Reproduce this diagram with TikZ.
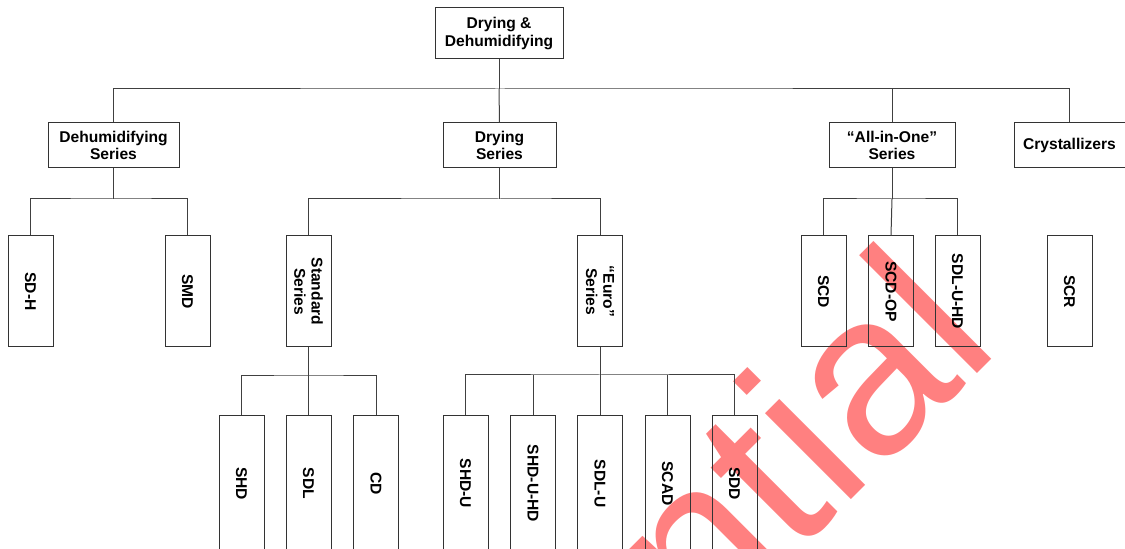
\documentclass[tikz,border=0pt]{standalone}
\usepackage{fontspec}
\setmainfont{Liberation Sans}
\usetikzlibrary{calc}
\definecolor{wasserrot}{RGB}{255,128,128}
\tikzset{
    kasten/.style={draw=black!80, line width=0.5pt, inner sep=0pt, align=center,
        font=\fontsize{7.8}{8.6}\selectfont\bfseries, minimum height=22.5pt},
    hoch/.style={kasten, rotate=-90, minimum width=55.5pt},
    tief/.style={hoch, anchor=west, minimum width=68pt},
    linie/.style={draw=black!75, line width=0.5pt}
}

\begin{document}
\begin{tikzpicture}[x=0.5pt, y=-0.5pt]

\useasboundingbox (0,0) rectangle (1125,549);
\clip (0,0) rectangle (1125,549);

% Wasserzeichen
\node[text=wasserrot, font=\fontsize{115}{115}\selectfont, rotate=45,
    anchor=base east, inner sep=0pt] (wz) at (1003,348) {ntial};

% Ebene 0 und 1
\node[kasten, minimum width=64pt, minimum height=25.5pt] (top) at (499,33.5) {Drying \&\\Dehumidifying};
\node[kasten, minimum width=65.5pt] (dehum) at (113.5,145.5) {Dehumidifying\\Series};
\node[kasten, minimum width=56.5pt] (trock) at (499.5,145.5) {Drying\\Series};
\node[kasten, minimum width=63pt] (allin) at (892,145.5) {“All-in-One”\\Series};
\node[kasten, minimum width=55.5pt] (kristall) at (1069.5,145.5) {Crystallizers};

% Ebene 2
\node[hoch] (sdh) at (30.5,291.5) {SD-H};
\node[hoch] (smd) at (187.5,291.5) {SMD};
\node[hoch] (standard) at (308.5,291.5) {Standard\\Series};
\node[hoch] (euro) at (600,291.5) {“Euro”\\Series};
\node[hoch] (scd) at (823.5,291.5) {SCD};
\node[hoch] (scdop) at (891,291.5) {SCD-OP};
\node[hoch] (sdluhd) at (957.5,291.5) {SDL-U-HD};
\node[hoch] (scr) at (1069.5,291.5) {SCR};

% Ebene 3
\node[tief] (shd) at (241.5,415) {SHD};
\node[tief] (sdl) at (308.5,415) {SDL};
\node[tief] (cd) at (376,415) {CD};
\node[tief] (shdu) at (465.5,415) {SHD-U};
\node[tief] (shduhd) at (533,415) {SHD-U-HD};
\node[tief] (sdlu) at (600,415) {SDL-U};
\node[tief] (scad) at (667.5,415) {SCAD};
\node[tief] (sdd) at (734.5,415) {SDD};

% Sammelpunkte
\coordinate (b0) at (499,89);
\coordinate (b1) at (113.5,199);
\coordinate (b2) at (499.5,199);
\coordinate (b3) at (892,199);
\coordinate (b4) at (308.5,376);
\coordinate (b5) at (600,375);

% Verbindungen
\draw[linie] (top.south) -- (b0);
\draw[linie] (dehum.north) |- (b0) -| (kristall.north);
\draw[linie] (trock.north) -- (b0);
\draw[linie] (allin.north) -- (allin.north |- b0);

\draw[linie] (dehum.south) -- (b1);
\draw[linie] (sdh.west) |- (b1) -| (smd.west);

\draw[linie] (trock.south) -- (b2);
\draw[linie] (standard.west) |- (b2) -| (euro.west);

\draw[linie] (allin.south) -- (b3);
\draw[linie] (scd.west) |- (b3) -| (sdluhd.west);
\draw[linie] (scdop.west) -- (b3);

\draw[linie] (standard.east) -- (b4);
\draw[linie] (shd.west) |- (b4) -| (cd.west);
\draw[linie] (sdl.west) -- (b4);

\draw[linie] (euro.east) -- (b5);
\draw[linie] (shdu.west) |- (b5) -| (sdd.west);
\draw[linie] (shduhd.west) -- (shduhd.west |- b5);
\draw[linie] (sdlu.west) -- (b5);
\draw[linie] (scad.west) -- (scad.west |- b5);

\end{tikzpicture}
\end{document}
